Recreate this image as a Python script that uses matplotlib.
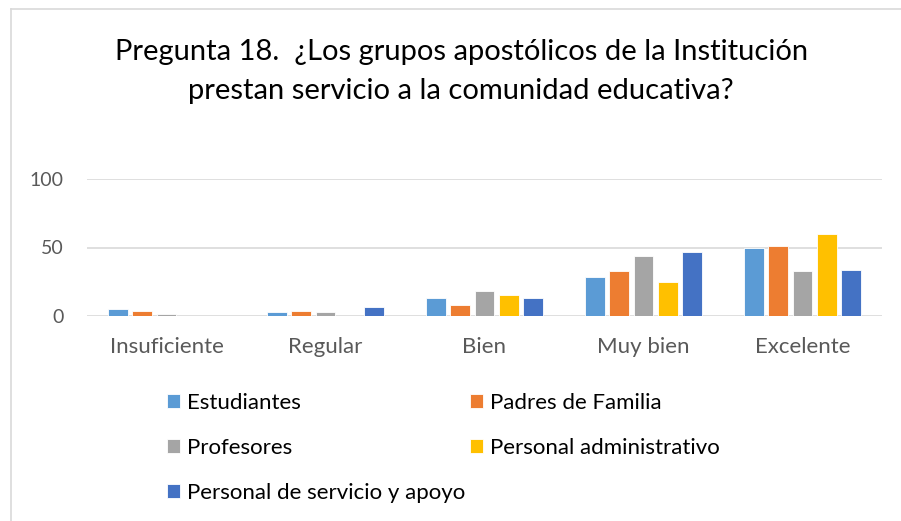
import numpy as np
import matplotlib
matplotlib.use("Agg")
import matplotlib.pyplot as plt
from matplotlib.lines import Line2D

plt.rcParams['font.family'] = ['Lato', 'DejaVu Sans']

categories = ['Insuficiente', 'Regular', 'Bien', 'Muy bien', 'Excelente']
series_names = ['Estudiantes', 'Padres de Familia', 'Profesores',
                'Personal administrativo', 'Personal de servicio y apoyo']
estudiantes = [5, 3, 13, 28.5, 50]
padres = [3.5, 4, 8, 32.5, 51]
profesores = [1.5, 3, 18, 43.5, 33]
administrativo = [0, 0, 15, 25, 60]
servicio = [0, 6.7, 13, 46.5, 33.5]
colors = ['#5b9bd5', '#ed7d31', '#a5a5a5', '#ffc000', '#4472c4']
title = 'Pregunta 18.  ¿Los grupos apostólicos de la Institución\nprestan servicio a la comunidad educativa?'

values = [estudiantes, padres, profesores, administrativo, servicio]

W, H = 901, 521
fig = plt.figure(figsize=(W / 100, H / 100), dpi=100)
# chart frame (only top and left edges are visible in the crop)
fig.add_artist(Line2D([10.5 / W, 1], [1 - 8.5 / H, 1 - 8.5 / H], color='#d9d9d9', lw=1.2))
fig.add_artist(Line2D([10.5 / W, 10.5 / W], [0, 1 - 8.5 / H], color='#d9d9d9', lw=1.2))

ax = fig.add_axes([87 / W, 205 / H, 795 / W, 137 / H])
x = np.arange(len(categories))
step = 0.153
bw = 0.122
for i, (name, vals, c) in enumerate(zip(series_names, values, colors)):
    ax.bar(x + (i - 2) * step, vals, bw, color=c, label=name,
           edgecolor='white', linewidth=0.6, zorder=3)

ax.set_xlim(-0.5, len(categories) - 0.5)
ax.set_ylim(0, 100)
ax.set_yticks([0, 50, 100])
ax.set_xticks(x)
ax.set_xticklabels(categories)
ax.yaxis.grid(True, color='#d9d9d9', lw=1.2, zorder=0)
for s in ax.spines.values():
    s.set_visible(False)
ax.tick_params(length=0, labelcolor='#595959')
ax.tick_params(axis='x', pad=15, labelsize=16)
ax.tick_params(axis='y', pad=17, labelsize=14)

fig.text(0.512, 0.863, title, ha='center', va='center', fontsize=21,
         color='#000000', linespacing=1.62)

h, l = ax.get_legend_handles_labels()
leg_kw = dict(loc='upper left', frameon=False, fontsize=16, handlelength=0.6,
              handleheight=0.6, handletextpad=0.3, labelspacing=1.13,
              borderpad=0, borderaxespad=0, labelcolor='#000000')
fig.legend([h[0], h[2], h[4]], [l[0], l[2], l[4]],
           bbox_to_anchor=(167 / W, 1 - 393 / H), **leg_kw)
fig.legend([h[1], h[3]], [l[1], l[3]],
           bbox_to_anchor=(470 / W, 1 - 393 / H), **leg_kw)

fig.savefig('out.png', dpi=100)
